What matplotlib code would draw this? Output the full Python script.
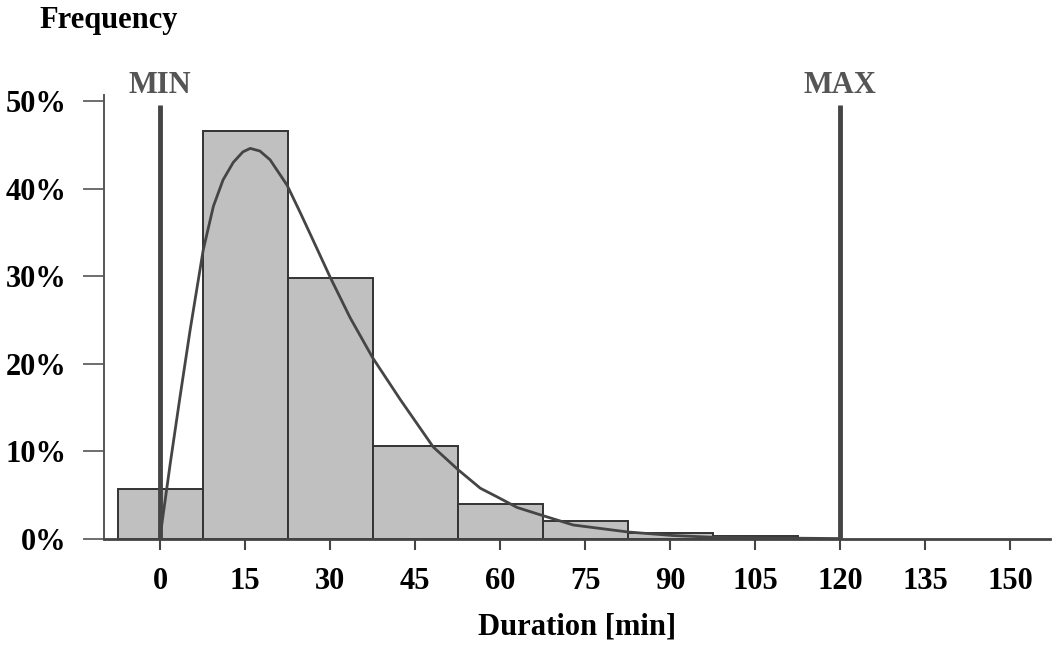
import numpy as np
import matplotlib.pyplot as plt

# ----------------------------
# Data
# ----------------------------
bin_centers = [0, 15, 30, 45, 60, 75, 90, 105]
bin_freq = [5.7, 46.6, 29.8, 10.6, 4.0, 2.1, 0.7, 0.35]   # percent
bin_width = 15

curve_x = [0, 1.8, 3.5, 5.3, 7.6, 9.4, 11.1, 12.9, 14.6, 15.9, 17.6, 19.4,
           22.4, 24.7, 26.5, 30.0, 33.5, 37.5, 42.4, 48.2, 52.6, 56.5,
           59.5, 63.0, 67.4, 72.9, 82.6, 90.5, 97.6, 108, 120]
curve_y = [0.3, 8.7, 16.2, 23.9, 33.0, 38.0, 41.0, 43.0, 44.2, 44.6, 44.3, 43.3,
           40.4, 37.3, 34.8, 29.9, 25.3, 20.7, 15.9, 10.5, 7.9, 5.8,
           4.8, 3.6, 2.7, 1.6, 0.8, 0.4, 0.2, 0.12, 0.05]

limits = {"MIN": 0, "MAX": 120}
x_ticks = [0, 15, 30, 45, 60, 75, 90, 105, 120, 135, 150]
y_ticks = [0, 10, 20, 30, 40, 50]

# ----------------------------
# Figure
# ----------------------------
plt.rcParams["font.family"] = ["Liberation Serif", "DejaVu Serif"]
plt.rcParams["font.weight"] = "bold"
FS = 22

fig = plt.figure(figsize=(10.53, 6.46), dpi=100)
ax = fig.add_axes([0.0988, 0.1656, 0.8982, 0.6874])

ax.bar(bin_centers, bin_freq, width=bin_width, color="#c0c0c0",
       edgecolor="#333333", linewidth=1.4, zorder=2)
ax.plot(curve_x, curve_y, color="#454545", lw=2, zorder=4)

for name, xv in limits.items():
    ax.plot([xv, xv], [0, 49.6], color="#454545", lw=3.5, zorder=3,
            solid_capstyle="butt")
    ax.text(xv, 50.9, name, ha="center", va="baseline", fontsize=FS,
            color="#555555", fontweight="bold", clip_on=False)

ax.set_xlim(-9.9, 157)
ax.set_ylim(0, 50.7)

ax.set_xticks(x_ticks)
ax.set_xticklabels([str(v) for v in x_ticks])
ax.set_yticks(y_ticks)
ax.set_yticklabels([f"{v}%" for v in y_ticks])
ax.tick_params(axis="x", length=8, width=1.5, color="#444444", pad=12,
               labelsize=FS, direction="out")
ax.tick_params(axis="y", length=15, width=1.2, color="#555555", pad=12,
               labelsize=FS, direction="out")

for s in ("top", "right"):
    ax.spines[s].set_visible(False)
ax.spines["left"].set_color("#555555")
ax.spines["left"].set_linewidth(1.4)
ax.spines["bottom"].set_color("#444444")
ax.spines["bottom"].set_linewidth(2)

ax.set_xlabel("Duration [min]", fontsize=FS, fontweight="bold", labelpad=12)
fig.text(0.037, 0.957, "Frequency", fontsize=FS, fontweight="bold",
         ha="left", va="baseline")

fig.savefig("out.png", dpi=100)
